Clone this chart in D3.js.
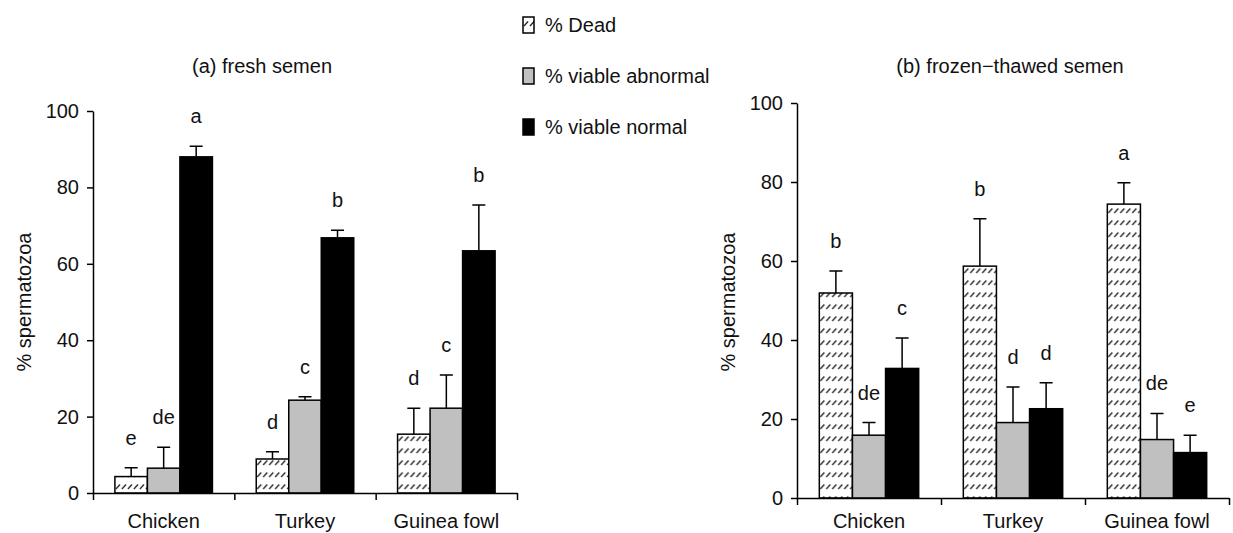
<!DOCTYPE html>
<html>
<head>
<meta charset="utf-8">
<script src="https://cdn.jsdelivr.net/npm/d3@7"></script>
<style>
	body { margin: 0; background: #fff; }
	svg text { font-family: "Liberation Sans", Arial, sans-serif; fill: #111; }
</style>
</head>
<body>
<div id="chart"></div>
<script>

// categories and series
const birds = ["Chicken", "Turkey", "Guinea fowl"];
const seriesNames = ["% Dead", "% viable abnormal", "% viable normal"];
const yTicks = [0, 20, 40, 60, 80, 100];

// (a) fresh semen: mean, upper error, letter
const freshDead     = [4.3, 8.9, 15.4];
const freshDeadErr  = [2.3, 1.9, 6.8];
const freshAbn      = [6.5, 24.3, 22.2];
const freshAbnErr   = [5.5, 0.9, 8.7];
const freshNorm     = [88.0, 66.8, 63.4];
const freshNormErr  = [2.8, 2.0, 12.0];
const freshLetters  = [["e", "de", "a"], ["d", "c", "b"], ["d", "c", "b"]];

// (b) frozen-thawed semen
const frozenDead    = [51.9, 58.7, 74.4];
const frozenDeadErr = [5.6, 12.0, 5.4];
const frozenAbn     = [15.9, 19.1, 14.8];
const frozenAbnErr  = [3.2, 9.0, 6.6];
const frozenNorm    = [32.8, 22.6, 11.5];
const frozenNormErr = [7.7, 6.6, 4.4];
const frozenLetters = [["b", "de", "c"], ["b", "d", "d"], ["a", "de", "e"]];

const W = 1233, H = 533;

let svg = d3.select("#chart").append("svg")
	.attr("width", W)
	.attr("height", H);

// hatch pattern for % Dead
let defs = svg.append("defs");
let pat = defs.append("pattern")
	.attr("id", "hatch")
	.attr("patternUnits", "userSpaceOnUse")
	.attr("width", 6)
	.attr("height", 12);
pat.append("rect").attr("width", 6).attr("height", 12).attr("fill", "#fff");
pat.append("line")
	.attr("x1", 1).attr("y1", 9)
	.attr("x2", 5).attr("y2", 4.5)
	.attr("stroke", "#222")
	.attr("stroke-width", 1.3);

const fills = ["url(#hatch)", "#c0c0c0", "#000"];

function buildRows(dead, deadErr, abn, abnErr, norm, normErr, letters) {
	return birds.map((b, i) => ({
		bird: b,
		bars: [
			{ s: 0, v: dead[i], e: deadErr[i], l: letters[i][0] },
			{ s: 1, v: abn[i], e: abnErr[i], l: letters[i][1] },
			{ s: 2, v: norm[i], e: normErr[i], l: letters[i][2] }
		]
	}));
}

function drawPanel(opts) {
	let g = svg.append("g");

	let x = d3.scaleBand()
		.domain(birds)
		.range([opts.x0, opts.x1])
		.paddingInner(0.31)
		.paddingOuter(0.155);

	let x1 = d3.scaleBand()
		.domain([0, 1, 2])
		.range([0, x.bandwidth()]);

	let y = d3.scaleLinear()
		.domain([0, 100])
		.range([opts.y0, opts.y100]);

	// bars
	let groups = g.selectAll(".grp")
		.data(opts.rows)
		.enter()
		.append("g")
		.attr("class", "grp")
		.attr("transform", d => "translate(" + x(d.bird) + ",0)");

	groups.selectAll(".bar")
		.data(d => d.bars)
		.enter()
		.append("rect")
		.attr("class", "bar")
		.attr("x", d => x1(d.s))
		.attr("y", d => y(d.v))
		.attr("width", x1.bandwidth())
		.attr("height", d => y(0) - y(d.v))
		.attr("fill", d => fills[d.s])
		.attr("stroke", "#000")
		.attr("stroke-width", 1.5);

	// error bars (upper only)
	groups.selectAll(".err")
		.data(d => d.bars)
		.enter()
		.append("path")
		.attr("class", "err")
		.attr("d", d => {
			let cx = x1(d.s) + x1.bandwidth() / 2;
			let top = y(d.v + d.e);
			return "M" + cx + "," + y(d.v) + "V" + top + "M" + (cx - 6.5) + "," + top + "H" + (cx + 6.5);
		})
		.attr("fill", "none")
		.attr("stroke", "#000")
		.attr("stroke-width", 1.5);

	// significance letters
	groups.selectAll(".letter")
		.data(d => d.bars)
		.enter()
		.append("text")
		.attr("class", "letter")
		.attr("x", d => x1(d.s) + x1.bandwidth() / 2)
		.attr("y", d => y(d.v + d.e) - 23)
		.attr("text-anchor", "middle")
		.style("font-size", "20px")
		.text(d => d.l);

	// y axis
	let yAxis = g.append("g")
		.attr("transform", "translate(" + opts.x0 + ",0)")
		.call(d3.axisLeft(y).tickValues(yTicks).tickSize(6).tickSizeOuter(0).tickPadding(8));
	yAxis.selectAll("text").style("font-size", "20px").attr("fill", "#111");
	yAxis.select(".domain").attr("stroke-width", 1.5);
	yAxis.selectAll("line").attr("stroke-width", 1.5);

	// x axis: ticks at group boundaries
	let xb = d3.scaleLinear().domain([0, birds.length]).range(x.range());
	let xAxis = g.append("g")
		.attr("transform", "translate(0," + opts.y0 + ")")
		.call(d3.axisBottom(xb).tickValues(d3.range(birds.length + 1)).tickFormat("").tickSize(7).tickSizeOuter(0));
	xAxis.select(".domain").attr("stroke-width", 1.5);
	xAxis.selectAll("line").attr("stroke-width", 1.5);

	// category labels, baseline at opts.labY
	let xLab = g.append("g")
		.attr("transform", "translate(0," + opts.labY + ")")
		.call(d3.axisBottom(x).tickSize(0).tickPadding(0));
	xLab.select(".domain").remove();
	xLab.selectAll("text").attr("dy", 0).style("font-size", "20px").attr("fill", "#111");

	// y label
	g.append("text")
		.attr("transform", "translate(" + opts.ylabX + "," + opts.ylabY + ") rotate(-90)")
		.attr("text-anchor", "middle")
		.style("font-size", "20px")
		.text("% spermatozoa");

	// title
	g.append("text")
		.attr("x", opts.titleX)
		.attr("y", 73)
		.attr("text-anchor", "middle")
		.style("font-size", "20px")
		.text(opts.title);
}

drawPanel({
	rows: buildRows(freshDead, freshDeadErr, freshAbn, freshAbnErr, freshNorm, freshNormErr, freshLetters),
	x0: 93, x1: 517, y0: 493, y100: 111, labY: 528,
	ylabX: 31, ylabY: 302,
	titleX: 262, title: "(a) fresh semen"
});

drawPanel({
	rows: buildRows(frozenDead, frozenDeadErr, frozenAbn, frozenAbnErr, frozenNorm, frozenNormErr, frozenLetters),
	x0: 797, x1: 1229, y0: 498, y100: 103, labY: 528,
	ylabX: 735, ylabY: 302,
	titleX: 1010, title: "(b) frozen\u2212thawed semen"
});

// legend
let legend = svg.append("g")
	.attr("transform", "translate(523,17)");

let items = legend.selectAll(".leg")
	.data(seriesNames)
	.enter()
	.append("g")
	.attr("class", "leg")
	.attr("transform", (d, i) => "translate(0," + (i * 51) + ")");

items.append("rect")
	.attr("width", 11)
	.attr("height", 16)
	.attr("fill", (d, i) => fills[i])
	.attr("stroke", "#000")
	.attr("stroke-width", 1.5);

items.append("text")
	.attr("x", 22)
	.attr("y", 15)
	.style("font-size", "20px")
	.text(d => d);

</script>
</body>
</html>
